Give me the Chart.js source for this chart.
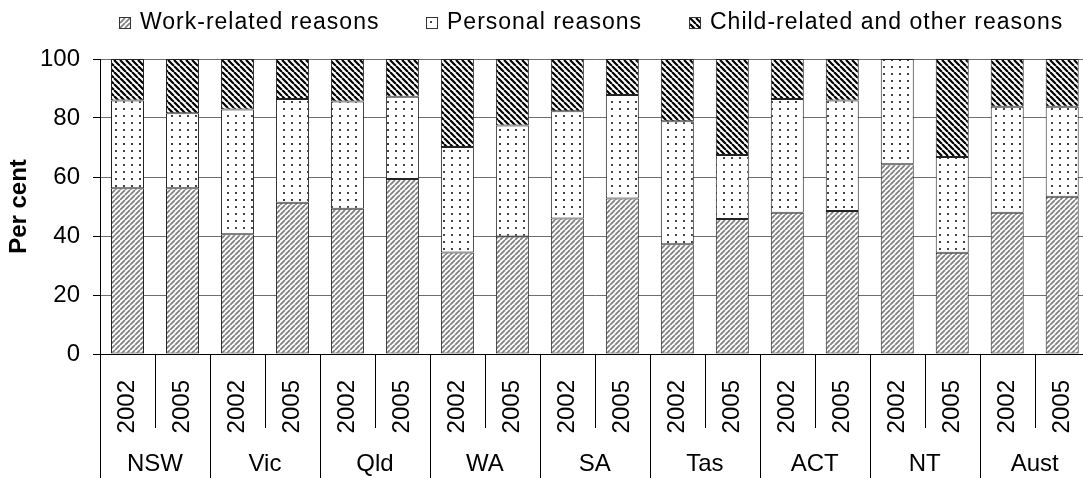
<!DOCTYPE html>
<html>
<head>
<meta charset="utf-8">
<script src="https://cdn.jsdelivr.net/npm/chart.js@4.4.1/dist/chart.umd.min.js"></script>
<style>
  html, body { margin: 0; padding: 0; background: #fff; overflow: hidden; }
  #wrap { position: relative; width: 1109px; height: 478px; }
  #chart { display: block; }
  #legend { position: absolute; top: 0; left: 0; width: 1109px; height: 40px;
            font-family: 'Liberation Sans', Arial, sans-serif; font-size: 23px; letter-spacing: 1px; color: #000; }
  .item { position: absolute; top: 8px; display: flex; align-items: center; height: 26px; line-height: 26px; white-space: nowrap; }
  .item canvas { border: 1px solid #333; margin-right: 9px; margin-top: 3px; }
</style>
</head>
<body>
<div id="wrap">
  <canvas id="chart" width="1109" height="478"></canvas>
  <div id="legend"></div>
</div>
<script>
  // Data (per cent)
  const years = ['2002', '2005', '2002', '2005', '2002', '2005', '2002', '2005', '2002', '2005',
                 '2002', '2005', '2002', '2005', '2002', '2005', '2002', '2005'];
  const states = ['NSW', 'Vic', 'Qld', 'WA', 'SA', 'Tas', 'ACT', 'NT', 'Aust'];
  const seriesNames = ['Work-related reasons', 'Personal reasons', 'Child-related and other reasons'];
  const workRelated = [56.2, 56.2, 40.6, 51.3, 49.2, 59.3, 34.4, 39.8, 45.9, 52.7, 37.2, 45.8, 47.9, 48.5, 64.3, 34.3, 47.9, 53.3];
  const personal    = [29.7, 25.4, 42.3, 35.1, 36.4, 27.9, 35.8, 37.7, 36.4, 35.1, 41.7, 21.7, 38.5, 37.4, 35.7, 32.5, 35.9, 30.5];
  const childOther  = [14.1, 18.4, 17.1, 13.6, 14.4, 12.8, 29.8, 22.5, 17.7, 12.2, 21.1, 32.5, 13.6, 14.1, 0.0, 33.2, 16.2, 16.2];
  const yMax = 100;
  const yStep = 20;

  const FONT = "'Liberation Sans', Arial, sans-serif";

  // pattern tiles
  function stripes(size, width, color, dir) {
    const c = document.createElement('canvas');
    c.width = size; c.height = size;
    const g = c.getContext('2d');
    g.fillStyle = '#fff';
    g.fillRect(0, 0, size, size);
    g.strokeStyle = color;
    g.lineWidth = width;
    g.beginPath();
    for (let k = -1; k <= 1; k++) {
      if (dir === '/') { g.moveTo(k * size, size); g.lineTo(k * size + size, 0); }
      else { g.moveTo(k * size, 0); g.lineTo(k * size + size, size); }
    }
    g.stroke();
    return c;
  }
  function dots(w, h, color) {
    const c = document.createElement('canvas');
    c.width = w; c.height = h;
    const g = c.getContext('2d');
    g.fillStyle = '#fff';
    g.fillRect(0, 0, w, h);
    g.fillStyle = color;
    g.fillRect(3, 3, 2, 2);
    return c;
  }

  const canvas = document.getElementById('chart');
  const ctx = canvas.getContext('2d');
  const fills = [
    ctx.createPattern(stripes(5, 1.8, '#808080', '/'), 'repeat'),
    ctx.createPattern(dots(8, 7, '#444'), 'repeat'),
    ctx.createPattern(stripes(6, 2.2, '#000', '\\'), 'repeat')
  ];

  // legend (html, placed like the original)
  const legendLeft = [119, 426, 689];
  const legend = document.getElementById('legend');
  seriesNames.forEach((name, i) => {
    const item = document.createElement('div');
    item.className = 'item';
    item.style.left = legendLeft[i] + 'px';
    const sw = document.createElement('canvas');
    sw.width = 10; sw.height = 10;
    const g = sw.getContext('2d');
    g.fillStyle = fills[i];
    g.fillRect(0, 0, 10, 10);
    item.appendChild(sw);
    item.appendChild(document.createTextNode(name));
    legend.appendChild(item);
  });

  // lines between the year / state labels under the axis
  const separators = {
    id: 'separators',
    afterDraw(chart) {
      const x = chart.scales.x;
      const c = chart.ctx;
      c.save();
      c.strokeStyle = '#000';
      c.lineWidth = 1;
      for (let i = 0; i <= years.length; i++) {
        const px = Math.round(x.getPixelForValue(i - 0.5)) + 0.5;
        const bottom = i % 2 === 0 ? chart.height : x.top + 74;
        c.beginPath();
        c.moveTo(px, x.top);
        c.lineTo(px, bottom);
        c.stroke();
      }
      c.restore();
    }
  };

  const seriesData = [workRelated, personal, childOther];

  new Chart(ctx, {
    type: 'bar',
    data: {
      labels: years,
      datasets: seriesNames.map((name, i) => ({
        label: name,
        data: seriesData[i],
        backgroundColor: fills[i],
        borderColor: '#222',
        borderWidth: 1,
        borderSkipped: false,
        barPercentage: 0.6,
        categoryPercentage: 1
      }))
    },
    options: {
      responsive: false,
      animation: false,
      layout: { padding: { top: 59, right: 0, left: 0, bottom: 0 } },
      plugins: {
        legend: { display: false },
        tooltip: { enabled: false }
      },
      scales: {
        x: {
          stacked: true,
          weight: 0,
          grid: { display: false },
          border: { display: true, color: '#000', width: 1 },
          ticks: {
            autoSkip: false,
            minRotation: 90,
            maxRotation: 90,
            padding: 18,
            color: '#000',
            font: { family: FONT, size: 24 }
          },
          afterFit(scale) { scale.height = 83; }
        },
        x2: {
          type: 'category',
          labels: states,
          position: 'bottom',
          offset: true,
          weight: 1,
          grid: { display: false },
          border: { display: false },
          ticks: {
            autoSkip: false,
            maxRotation: 0,
            padding: 5,
            color: '#000',
            font: { family: FONT, size: 24 }
          },
          afterFit(scale) { scale.height = 41; }
        },
        y: {
          stacked: true,
          min: 0,
          max: yMax,
          ticks: {
            stepSize: yStep,
            padding: 13,
            color: '#000',
            font: { family: FONT, size: 24 }
          },
          grid: { color: '#6e6e6e', lineWidth: 1, tickLength: 7, tickColor: '#000' },
          border: { display: true, color: '#000', width: 1 },
          title: {
            display: true,
            text: 'Per cent',
            color: '#000',
            padding: { top: 5, bottom: 6 },
            font: { family: FONT, size: 24, weight: 'bold' }
          },
          afterFit(scale) { scale.width = 100; }
        }
      }
    },
    plugins: [separators]
  });
</script>
</body>
</html>
